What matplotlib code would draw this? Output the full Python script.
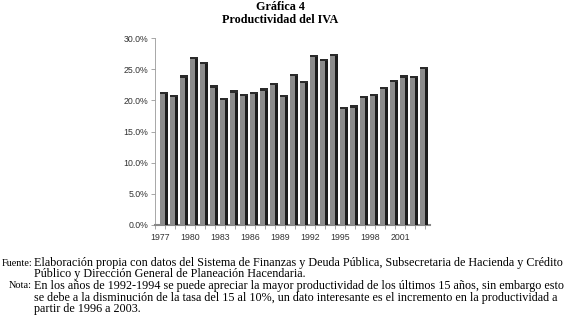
import matplotlib
matplotlib.use("Agg")
import matplotlib.pyplot as plt
from matplotlib.ticker import FuncFormatter, FixedLocator

years = list(range(1977, 2004))
productividad = [21.3, 20.9, 24.0, 27.0, 26.1, 22.4, 20.4, 21.6, 21.0, 21.3,
                 21.9, 22.8, 20.9, 24.2, 23.1, 27.3, 26.6, 27.4, 19.0, 19.2,
                 20.7, 21.0, 22.2, 23.3, 24.0, 23.9, 25.3]
yticks = [0, 5, 10, 15, 20, 25, 30]
xtick_years = list(range(1977, 2004, 3))

title_lines = ["Gráfica 4", "Productividad del IVA"]
fuente = ["Elaboración propia con datos del Sistema de Finanzas y Deuda Pública, Subsecretaria de Hacienda y Crédito",
          "Público y Dirección General de Planeación Hacendaria."]
nota = ["En los años de 1992-1994 se puede apreciar la mayor productividad de los últimos 15 años, sin embargo esto",
        "se debe a la disminución de la tasa del 15 al 10%, un dato interesante es el incremento en la productividad a",
        "partir de 1996 a 2003."]

W, H = 566, 331
fig = plt.figure(figsize=(W/100, H/100), dpi=100)
ax = fig.add_axes([155/W, 1-225/H, (430-155)/W, (225-38)/H])

x = list(range(len(years)))
ax.bar([i + 0.25 for i in x], productividad, width=0.5, color="#8c8c8c", linewidth=0, zorder=3)
ax.bar([i + 0.65 for i in x], productividad, width=0.3, color="#1c1c1c", linewidth=0, zorder=3)
# top caps
ax.bar([i + 0.4 for i in x], [0.35]*len(x), bottom=[v - 0.35 for v in productividad],
       width=0.8, color="#2a2a2a", linewidth=0, zorder=4)

ax.set_xlim(-0.5, 27.0)
ax.set_ylim(0, 30)
ax.set_yticks(yticks)
ax.yaxis.set_major_formatter(FuncFormatter(lambda v, p: f"{v:.1f}%"))
ax.set_xticks([y - 1977 for y in xtick_years])
ax.set_xticklabels([str(y) for y in xtick_years])
ax.xaxis.set_minor_locator(FixedLocator([i - 0.5 for i in x] + [26.5]))
ax.tick_params(axis="x", which="major", length=0, labelsize=6.3, pad=6)
ax.tick_params(axis="x", which="minor", length=3, color="#999999", width=0.6)
ax.tick_params(axis="y", length=3, color="#999999", width=0.6, labelsize=6.3, pad=2)
for lab in ax.get_xticklabels() + ax.get_yticklabels():
    lab.set_fontfamily("Liberation Sans")
    lab.set_color("#333333")
for s in ["top", "right"]:
    ax.spines[s].set_visible(False)
ax.spines["left"].set_color("#999999")
ax.spines["left"].set_linewidth(0.6)
ax.spines["bottom"].set_color("#888888")
ax.spines["bottom"].set_linewidth(1.5)

fig.text(280/W, 1-7.5/H, title_lines[0], ha="center", va="center", fontsize=8.7,
         fontweight="bold", family="Liberation Serif")
fig.text(280/W, 1-20/H, title_lines[1], ha="center", va="center", fontsize=8.7,
         fontweight="bold", family="Liberation Serif")

fs = 8.7
ys = [263, 274.5, 286, 297.5, 309]
fig.text(32/W, 1-ys[0]/H, "Fuente:", ha="right", va="center", fontsize=7.4, family="Liberation Serif")
fig.text(32/W, 1-ys[2]/H, "Nota:", ha="right", va="center", fontsize=7.4, family="Liberation Serif")
lines = fuente + nota
for yy, t in zip(ys, lines):
    fig.text(34/W, 1-yy/H, t, ha="left", va="center", fontsize=fs, family="Liberation Serif")

fig.savefig("out.png", dpi=100)
